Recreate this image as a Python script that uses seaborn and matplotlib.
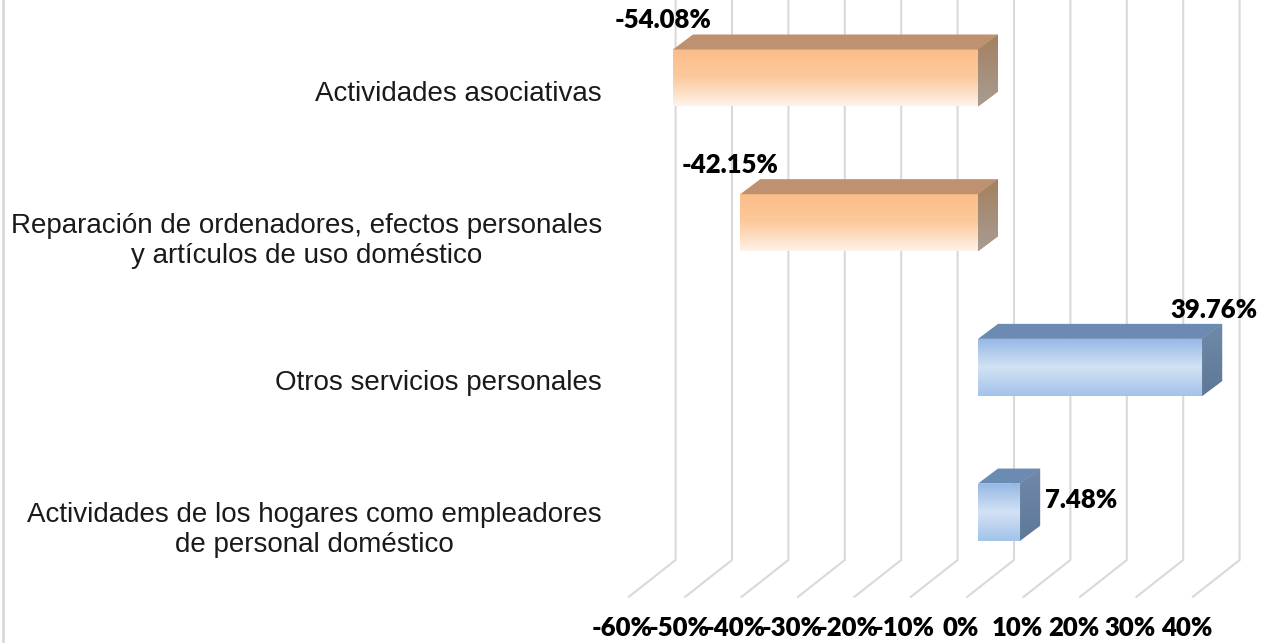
import numpy as np
import pandas as pd
import seaborn as sns
import matplotlib.pyplot as plt
import matplotlib.transforms as mtransforms
from matplotlib.colors import LinearSegmentedColormap
from matplotlib.lines import Line2D
from matplotlib.patches import Polygon

# chart data
categories = [
    "Actividades asociativas",
    "Reparación de ordenadores, efectos personales\ny artículos de uso doméstico",
    "Otros servicios personales",
    "Actividades de los hogares como empleadores\nde personal doméstico",
]
values = [-54.08, -42.15, 39.76, 7.48]
tick_values = [-60, -50, -40, -30, -20, -10, 0, 10, 20, 30, 40]
tick_labels = ["-60%", "-50%", "-40%", "-30%", "-20%", "-10%", "0%", "10%", "20%", "30%", "40%"]

W, H = 1271, 643
DEPTH_X, DEPTH_Y = 20, 15      # 3d depth of the bars (px)
WALL_X = 36                    # back wall offset from the bar front (px)
FLOOR_X, FLOOR_Y = 47, 37      # floor diagonal (px)
FLOOR_TOP = 560
BOLD = dict(fontsize=18.5, fontweight="heavy", family=["Lato", "DejaVu Sans"], color="black")

styles = {
    "neg": {"front": ["#fbbd88", "#fcc99c", "#fff2e8"], "top": "#be9170",
            "side": ["#a4805f", "#a89c92"]},
    "pos": {"front": ["#95b8e5", "#d3e2f4", "#a3c3ea"], "top": "#6b8bb2",
            "side": ["#7089a9", "#5e7898"]},
}

sns.set_theme(style="white")
plt.rcParams['font.family'] = ['Liberation Sans', 'DejaVu Sans']

fig = plt.figure(figsize=(W / 100, H / 100), dpi=100)
ax = fig.add_axes([610 / W, 0, 655 / W, 1])
ax.patch.set_alpha(0)

df = pd.DataFrame({
    "categoria": categories,
    "valor": values,
    "signo": ["neg" if v < 0 else "pos" for v in values],
})
sns.barplot(data=df, x="valor", y="categoria", hue="signo",
            palette={"neg": "#fbc08d", "pos": "#a7c5ea"}, orient="h",
            width=0.394, dodge=False, legend=False, ax=ax, zorder=3,
            linewidth=0)

XLIM = ((610 - 978) / 5.64, (1265 - 978) / 5.64)
YLIM = (3.905, -0.539)
ax.set_xlim(XLIM)
ax.set_ylim(YLIM)


def to_px(x, y):
    dx, dy = ax.transData.transform((x, y))
    return dx, H - dy


def to_fig(px, py):
    return px / W, 1 - py / H


def px_to_data(px, py):
    return ax.transData.inverted().transform((px, H - py))


# back wall + floor grid lines
for t in tick_values:
    bx, _ = to_px(t, 0)
    bx += WALL_X
    pts = [to_fig(bx, -5), to_fig(bx, FLOOR_TOP), to_fig(bx - FLOOR_X, FLOOR_TOP + FLOOR_Y)]
    ax.add_line(Line2D([p[0] for p in pts], [p[1] for p in pts], transform=fig.transFigure,
                       color="#d9d9d9", lw=1.5, clip_on=False, zorder=1))

# 3d faces + gradients
for patch, val in zip(ax.patches, values):
    st = styles["neg" if val < 0 else "pos"]
    x, w = patch.get_x(), patch.get_width()
    y, h = patch.get_y(), patch.get_height()
    xl, xr = min(x, x + w), max(x, x + w)
    x0, pt = to_px(xl, y)
    x1, pb = to_px(xr, y + h)

    cmap = LinearSegmentedColormap.from_list("f", st["front"])
    grad = cmap(np.linspace(0, 1, 64))[:, None, :3]
    im = ax.imshow(grad, extent=(xl, xr, y + h, y), aspect="auto", zorder=3.5,
                   interpolation="bicubic")
    im.set_clip_path(patch)

    top = Polygon([to_fig(x0, pt), to_fig(x1, pt), to_fig(x1 + DEPTH_X, pt - DEPTH_Y),
                   to_fig(x0 + DEPTH_X, pt - DEPTH_Y)], closed=True, transform=fig.transFigure,
                  facecolor=st["top"], edgecolor="none", clip_on=False, zorder=3.6)
    ax.add_patch(top)

    side = Polygon([to_fig(x1, pt), to_fig(x1 + DEPTH_X, pt - DEPTH_Y),
                    to_fig(x1 + DEPTH_X, pb - DEPTH_Y), to_fig(x1, pb)], closed=True,
                   transform=fig.transFigure, facecolor=st["side"][0], edgecolor="none",
                   clip_on=False, zorder=3.6)
    ax.add_patch(side)
    sx0, sy0 = px_to_data(x1, pt - DEPTH_Y)
    sx1, sy1 = px_to_data(x1 + DEPTH_X, pb)
    scmap = LinearSegmentedColormap.from_list("s", st["side"])
    sgrad = scmap(np.linspace(0, 1, 32))[:, None, :3]
    sim = ax.imshow(sgrad, extent=(sx0, sx1, sy1, sy0), aspect="auto", zorder=3.7,
                    interpolation="bicubic")
    sim.set_clip_path(side)

    # value labels: outside for short bars, above the bar end otherwise
    end_px = x0 if val < 0 else x1
    txt = f"{val:.2f}%"
    if abs(val) < 20:
        lx, ly, ha = x1 + DEPTH_X + 5, (pt + pb) / 2 - 12, "left"
    else:
        lx, ly, ha = end_px + (12 if val > 0 else -10), pt - 29, "center"
    fx, fy = to_fig(lx, ly)
    fig.text(fx, fy, txt, ha=ha, va="center", **BOLD)

ax.set_xlim(XLIM)
ax.set_ylim(YLIM)

# floor tick labels
for t, lab in zip(tick_values, tick_labels):
    bx, _ = to_px(t, 0)
    fx, fy = to_fig(bx + WALL_X - FLOOR_X - 6, 628)
    fig.text(fx, fy, lab, ha="center", va="center", **BOLD)

ax.set_xticks([])
ax.set_xlabel("")
ax.set_ylabel("")
ax.set_yticks(range(len(categories)))
ax.set_yticklabels(categories, fontsize=20, color="#1a1a1a", multialignment="center")
ax.tick_params(axis="y", length=0, pad=5.8)
shift = mtransforms.ScaledTranslation(0, -13 / 100, fig.dpi_scale_trans)
for lbl in ax.get_yticklabels():
    lbl.set_transform(lbl.get_transform() + shift)
for s in ax.spines.values():
    s.set_visible(False)

fig.add_artist(Line2D([3 / W, 3 / W], [0, 1], transform=fig.transFigure, color="#d9d9d9", lw=2))

fig.savefig("out.png", dpi=100, facecolor="white")
